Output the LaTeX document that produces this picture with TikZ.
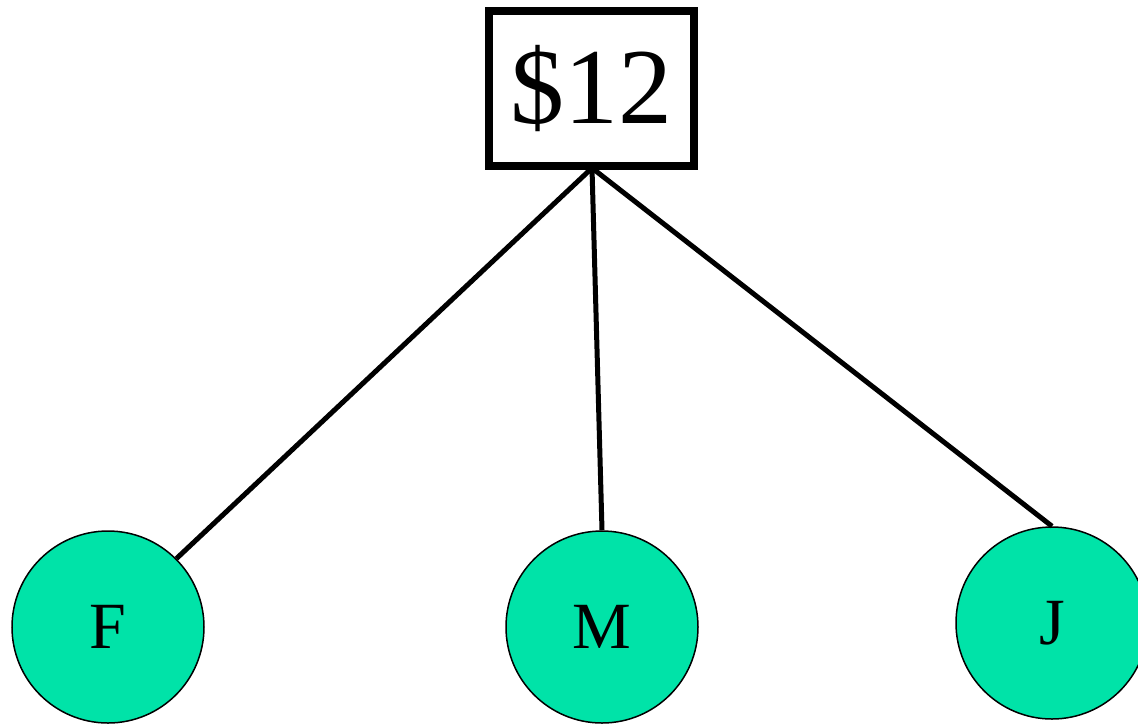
\documentclass[tikz,border=0pt]{standalone}
\usepackage{fontspec}
\setmainfont{Liberation Serif}
\definecolor{leaf}{HTML}{00E3A8}
\begin{document}
\begin{tikzpicture}[x=1pt,y=-1pt,
  pricebox/.style={draw,line width=7.5pt,minimum width=205pt,minimum height=155pt,inner sep=0pt,font=\fontsize{108}{108}\selectfont},
  person/.style={circle,draw,line width=1.5pt,fill=leaf,minimum size=192pt,inner sep=0pt,font=\fontsize{66}{66}\selectfont},
  edge/.style={line width=5pt}]
\useasboundingbox (0,0) rectangle (1138,724);
\node[pricebox] (price) at (591.5,88.5) {\$12};
\node[person] (f) at (108,627) {F};
\node[person] (m) at (602,627) {M};
\node[person] (j) at (1052,623) {J};
\coordinate (top) at (592,168);
\draw[edge] (top) -- (f.45);
\draw[edge] (top) -- (m.north);
\draw[edge] (top) -- (j.north);
\end{tikzpicture}
\end{document}
